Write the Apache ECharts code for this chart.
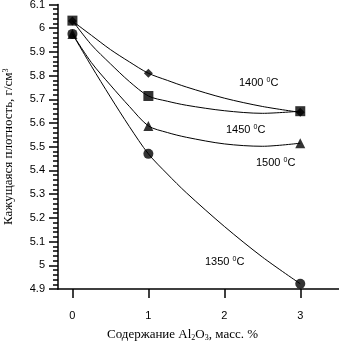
<!DOCTYPE html>
<html>
<head>
<meta charset="utf-8">
<script src="https://cdn.jsdelivr.net/npm/echarts@6/dist/echarts.min.js"></script>
<style>
html,body{margin:0;padding:0;background:#fff;}
#EchartDiv{width:339px;height:343px;}
</style>
</head>
<body>
<div id="EchartDiv"></div>
<script>
// x - содержание Al2O3, %
var arrCurveX  = [0, 0.25, 0.5, 0.75, 1, 1.25, 1.5, 2, 2.5, 3];
var arrPointX  = [0, 1, 3];
var arrXTicks  = [0, 1, 2, 3];

// линии
var arr1400Curve = [6.03, 5.97, 5.91, 5.858, 5.81, 5.78, 5.752, 5.705, 5.67, 5.645];
var arr1450Curve = [6.032, 5.93, 5.85, 5.775, 5.714, 5.692, 5.675, 5.652, 5.641, 5.65];
var arr1500Curve = [5.976, 5.855, 5.76, 5.67, 5.588, 5.56, 5.54, 5.512, 5.502, 5.515];
var arr1350Curve = [5.976, 5.84, 5.71, 5.585, 5.47, 5.385, 5.306, 5.164, 5.035, 4.922];

// экспериментальные точки
var arr1400Point = [6.03, 5.81, 5.645];
var arr1450Point = [6.032, 5.714, 5.65];
var arr1500Point = [5.976, 5.588, 5.515];
var arr1350Point = [5.976, 5.47, 4.922];

var arrLabels = ['1400', '1450', '1500', '1350'];

function pairs(xs, ys){
	var res = [];
	for (var i=0;i<xs.length;i++){
		res.push([xs[i], ys[i]]);
	}
	return res;
}

var myChart = echarts.init(document.getElementById('EchartDiv'));

var serifFont = '"Liberation Serif", "Times New Roman", serif';
var sansFont  = '"Liberation Sans", Arial, sans-serif';

function curve(name, ys){
	return {
		name: name,
		type: 'line',
		data: pairs(arrCurveX, ys),
		smooth: 0.3,
		symbol: 'none',
		lineStyle: {color: '#000', width: 1},
		z: 2
	};
}
function marks(name, ys, sym, size){
	return {
		name: name,
		type: 'scatter',
		data: pairs(arrPointX, ys),
		symbol: sym,
		symbolSize: size,
		itemStyle: {color: '#000'},
		z: 3
	};
}

function tempLabel(txt, left, top){
	return {
		type: 'text',
		left: left,
		top: top,
		style: {
			text: txt + ' {s|0}C',
			fill: '#000',
			font: '11px ' + sansFont,
			rich: {
				s: {fontSize: 7, verticalAlign: 'top', fill: '#000', padding: [0, 0, 5, 0]}
			}
		}
	};
}

var option = {
	animation: false,
	backgroundColor: '#fff',
	grid: {
		left: 58,
		right: 0,
		top: 4.5,
		bottom: 54,
		outerBoundsMode: 'none'
	},
	xAxis: {
		type: 'value',
		min: -0.19,
		max: 3.51,
		name: 'Содержание Al{sub|2}O{sub|3}, масс. %',
		nameLocation: 'middle',
		nameGap: 39,
		nameTextStyle: {
			fontFamily: serifFont,
			fontSize: 13,
			color: '#000',
			padding: [0, 32, 0, 0],
			rich: {
				sub: {fontFamily: serifFont, fontSize: 8, verticalAlign: 'bottom', padding: [6, 0, 0, 0], color: '#000'}
			}
		},
		axisLine: {show: true, onZero: false, lineStyle: {color: '#000', width: 1.5}},
		axisTick: {show: true, inside: false, length: 9, customValues: arrXTicks, lineStyle: {color: '#000', width: 1.5}},
		axisLabel: {
			customValues: arrXTicks,
			margin: 21,
			fontFamily: sansFont,
			fontSize: 11,
			color: '#000'
		},
		splitLine: {show: false}
	},
	yAxis: {
		type: 'value',
		min: 4.9,
		max: 6.1,
		interval: 0.1,
		name: 'Кажущаяся плотность, г/см{sup|3}',
		nameLocation: 'middle',
		nameGap: 42,
		nameRotate: 90,
		nameTextStyle: {
			fontFamily: serifFont,
			fontSize: 13,
			color: '#000',
			rich: {
				sup: {fontFamily: serifFont, fontSize: 8, verticalAlign: 'top', padding: [0, 0, 6, 0], color: '#000'}
			}
		},
		axisLine: {show: true, onZero: false, lineStyle: {color: '#000', width: 1.5}},
		axisTick: {show: true, inside: false, length: 9, lineStyle: {color: '#000', width: 1.5}},
		minorTick: {show: true, splitNumber: 5, length: 5, lineStyle: {color: '#000', width: 1.5}},
		axisLabel: {
			margin: 13,
			fontFamily: sansFont,
			fontSize: 11,
			color: '#000',
			formatter: function(v){
				return String(Number(v.toFixed(1)));
			}
		},
		splitLine: {show: false},
		minorSplitLine: {show: false}
	},
	graphic: [
		tempLabel(arrLabels[0], 239, 77),
		tempLabel(arrLabels[1], 226, 124),
		tempLabel(arrLabels[2], 256, 157),
		tempLabel(arrLabels[3], 205, 256)
	],
	series: [
		curve('1400', arr1400Curve),
		curve('1450', arr1450Curve),
		curve('1500', arr1500Curve),
		curve('1350', arr1350Curve),
		marks('1400p', arr1400Point, 'diamond', 9),
		marks('1450p', arr1450Point, 'rect', 10),
		marks('1500p', arr1500Point, 'triangle', 10),
		marks('1350p', arr1350Point, 'circle', 10)
	]
};
myChart.setOption(option);
</script>
</body>
</html>
